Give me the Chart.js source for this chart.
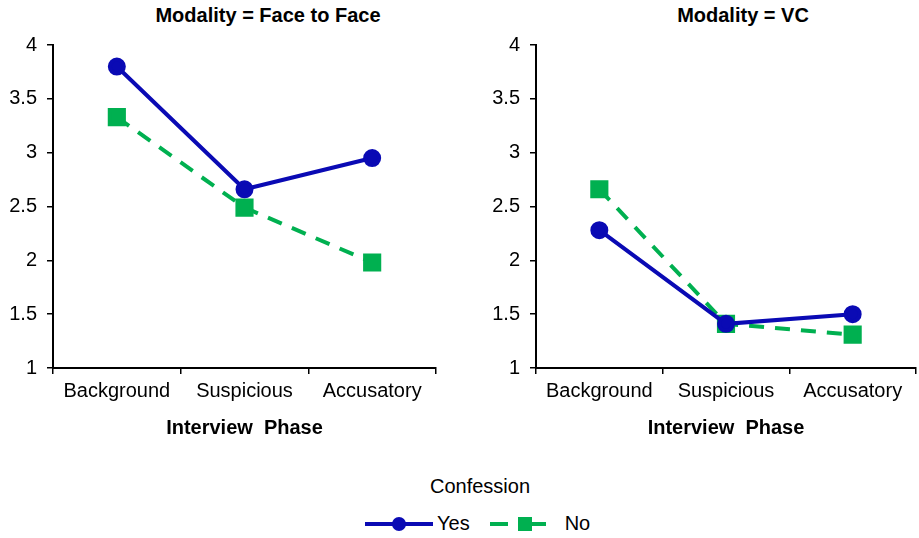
<!DOCTYPE html>
<html lang="en">
<head>
  <meta charset="UTF-8" />
  <title>Confession by Interview Phase</title>
  <script src="https://cdn.jsdelivr.net/npm/chart.js@4.4.0"></script>
  <style>
    body {
      margin: 0;
      background: white;
      font-family: 'Liberation Sans', Arial, sans-serif;
      color: black;
      overflow: hidden;
    }
    .wrap { position: relative; width: 919px; height: 538px; overflow: hidden; }
    .panel { position: absolute; top: 0; height: 440px; }
    .title {
      position: absolute; top: 4px; font-weight: bold; font-size: 20px;
      transform: translateX(-50%); white-space: nowrap;
    }
    #legendTitle {
      position: absolute; top: 475px; left: 480px; transform: translateX(-50%);
      font-size: 20px;
    }
    #legend {
      position: absolute; top: 512px; left: 365px; font-size: 20px;
      display: flex; align-items: center;
    }
    .sw { position: relative; height: 20px; }
    .sw .ln { position: absolute; top: 8px; left: 0; height: 4px; }
    .sw .mk { position: absolute; top: 3px; width: 14px; height: 14px; }
  </style>
</head>
<body>
  <div class="wrap">
    <div class="title" style="left:268px">Modality = Face to Face</div>
    <div class="title" style="left:743px">Modality = VC</div>
    <div class="panel" style="left:0;width:450px"><canvas id="f2f"></canvas></div>
    <div class="panel" style="left:460px;width:470px"><canvas id="vc"></canvas></div>
    <div id="legendTitle">Confession</div>
    <div id="legend"></div>
  </div>

  <script>
    const phases = ['Background', 'Suspicious', 'Accusatory'];
    const yTicks = [1, 1.5, 2, 2.5, 3, 3.5, 4];

    const f2fYes = [3.80, 2.66, 2.95];
    const f2fNo = [3.33, 2.49, 1.98];
    const vcYes = [2.28, 1.41, 1.50];
    const vcNo = [2.66, 1.41, 1.31];

    const seriesNames = ['Yes', 'No'];
    const blue = '#0a0ab4';
    const green = '#00b050';
    const font = "'Liberation Sans', Arial";

    function makeChart(id, yes, no, yWidth) {
      return new Chart(document.getElementById(id), {
        type: 'line',
        data: {
          labels: phases,
          datasets: [
            {
              label: seriesNames[0], data: yes,
              borderColor: blue, backgroundColor: blue, borderWidth: 4,
              pointStyle: 'circle', pointRadius: 7, pointHoverRadius: 7,
              order: 1
            },
            {
              label: seriesNames[1], data: no,
              borderColor: green, backgroundColor: green, borderWidth: 4,
              borderDash: [15, 11],
              pointStyle: 'rect', pointRadius: 10, pointHoverRadius: 10,
              order: 2
            }
          ]
        },
        options: {
          responsive: false,
          animation: false,
          layout: { padding: { top: 45, right: 4, left: 0, bottom: 0 } },
          plugins: { legend: { display: false }, tooltip: { enabled: false } },
          scales: {
            x: {
              offset: true,
              grid: { offset: true, drawOnChartArea: false, tickLength: 6, color: 'black', lineWidth: 1.5 },
              border: { color: 'black', width: 2 },
              ticks: { color: 'black', font: { size: 20, family: font }, padding: 5, maxRotation: 0 },
              title: {
                display: true, text: 'Interview  Phase', color: 'black',
                font: { size: 20, weight: 'bold', family: font },
                padding: { top: 8, bottom: 0 }
              }
            },
            y: {
              min: 1, max: 4,
              afterBuildTicks: s => { s.ticks = yTicks.map(v => ({ value: v })); },
              afterFit: s => { s.width = yWidth; },
              grid: { drawOnChartArea: false, tickLength: 6, color: 'black', lineWidth: 1.5 },
              border: { color: 'black', width: 2 },
              ticks: { color: 'black', font: { size: 20, family: font }, padding: 10, callback: v => String(v) }
            }
          }
        }
      });
    }

    function sizeCanvas(id, w, h) {
      const c = document.getElementById(id);
      c.width = w; c.height = h;
      c.style.width = w + 'px'; c.style.height = h + 'px';
    }
    sizeCanvas('f2f', 450, 440);
    sizeCanvas('vc', 470, 440);
    makeChart('f2f', f2fYes, f2fNo, 53);
    makeChart('vc', vcYes, vcNo, 76);

    // legend built from the dataset names and styles
    const legend = document.getElementById('legend');
    legend.innerHTML =
      '<div class="sw" style="width:68px"><div class="ln" style="width:68px;background:' + blue + '"></div>' +
      '<div class="mk" style="left:27px;border-radius:50%;background:' + blue + '"></div></div>' +
      '<span style="margin:0 20px 0 4px">' + seriesNames[0] + '</span>' +
      '<div class="sw" style="width:56px">' +
      '<div class="ln" style="width:18px;background:' + green + '"></div>' +
      '<div class="ln" style="left:30px;width:26px;background:' + green + '"></div>' +
      '<div class="mk" style="left:28px;background:' + green + '"></div></div>' +
      '<span style="margin-left:19px">' + seriesNames[1] + '</span>';
  </script>
</body>
</html>
